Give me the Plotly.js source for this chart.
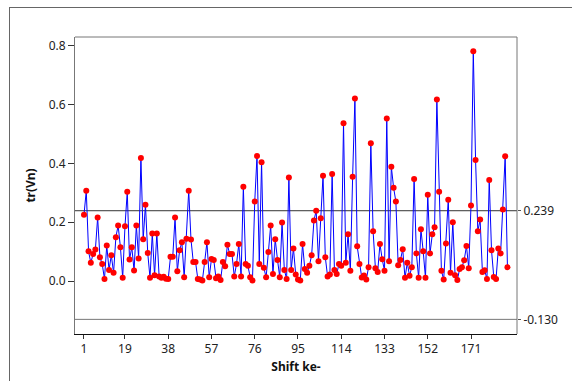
<!DOCTYPE html>
<html>
<head>
<meta charset="utf-8">
<script src="https://cdn.plot.ly/plotly-3.0.1.min.js"></script>
<style>
  html, body { margin: 0; padding: 0; background: #fff; }
  #wrap { position: relative; width: 572px; height: 381px; overflow: hidden; }
  #chart { width: 572px; height: 381px; }
  #frame { position: absolute; left: 9px; top: 7px; width: 600px; height: 400px;
           border-left: 1px solid #666; border-top: 1px solid #666; pointer-events: none; }
</style>
</head>
<body>
<div id="wrap">
  <div id="chart"></div>
  <div id="frame"></div>
</div>
<script>
// Values (tr(Vn) per shift)
const trValues = [
  0.225, 0.307, 0.101, 0.062, 0.092, 0.107, 0.216, 0.081, 0.058, 0.007,
  0.121, 0.038, 0.088, 0.028, 0.149, 0.189, 0.115, 0.011, 0.186, 0.303,
  0.073, 0.115, 0.036, 0.189, 0.077, 0.418, 0.142, 0.259, 0.095, 0.011,
  0.162, 0.020, 0.162, 0.016, 0.011, 0.015, 0.008, 0.007, 0.083, 0.083,
  0.216, 0.033, 0.105, 0.132, 0.013, 0.144, 0.307, 0.141, 0.065, 0.065,
  0.007, 0.005, 0.002, 0.065, 0.132, 0.013, 0.075, 0.072, 0.010, 0.016,
  0.004, 0.065, 0.050, 0.123, 0.092, 0.092, 0.016, 0.058, 0.126, 0.016,
  0.320, 0.058, 0.052, 0.013, 0.002, 0.270, 0.425, 0.058, 0.404, 0.045,
  0.013, 0.099, 0.189, 0.024, 0.142, 0.072, 0.013, 0.199, 0.038, 0.007,
  0.352, 0.038, 0.111, 0.022, 0.005, 0.002, 0.126, 0.041, 0.028, 0.052,
  0.088, 0.206, 0.239, 0.067, 0.213, 0.358, 0.081, 0.016, 0.022, 0.364,
  0.038, 0.024, 0.058, 0.052, 0.536, 0.062, 0.159, 0.035, 0.354, 0.620,
  0.118, 0.058, 0.012, 0.019, 0.005, 0.047, 0.468, 0.169, 0.044, 0.031,
  0.126, 0.074, 0.035, 0.552, 0.067, 0.388, 0.317, 0.270, 0.054, 0.072,
  0.108, 0.011, 0.062, 0.018, 0.047, 0.347, 0.094, 0.011, 0.176, 0.101,
  0.011, 0.293, 0.094, 0.159, 0.183, 0.617, 0.303, 0.035, 0.005, 0.128,
  0.276, 0.028, 0.200, 0.020, 0.004, 0.041, 0.047, 0.071, 0.119, 0.044,
  0.257, 0.781, 0.411, 0.169, 0.209, 0.031, 0.037, 0.007, 0.343, 0.105,
  0.014, 0.007, 0.111, 0.094, 0.243, 0.424, 0.047
];
const shiftIndex = trValues.map((v, i) => i + 1);
const xTickVals = [1, 19, 38, 57, 76, 95, 114, 133, 152, 171];
const yTickVals = [0.0, 0.2, 0.4, 0.6, 0.8];
const upperLimit = 0.239;
const lowerLimit = -0.130;
const limitVals = [upperLimit, lowerLimit];
const limitLabels = ['0.239', '-0.130'];

const FONT = 'Noto Sans, Open Sans, DejaVu Sans, sans-serif';
const yRange = [-0.1797, 0.829];

const trace = {
  x: shiftIndex,
  y: trValues,
  type: 'scatter',
  mode: 'lines+markers',
  line: { color: '#0000ff', width: 1 },
  marker: { color: '#ff0000', size: 6, line: { width: 0 } },
  hoverinfo: 'x+y',
  showlegend: false
};
// invisible trace to carry the right-side axis
const helper = {
  x: [shiftIndex[0]], y: [trValues[0]], yaxis: 'y2', mode: 'markers',
  marker: { opacity: 0 }, hoverinfo: 'skip', showlegend: false
};

const layout = {
  width: 572, height: 381,
  margin: { l: 75, r: 55, t: 37, b: 47, pad: 0 },
  paper_bgcolor: '#ffffff',
  plot_bgcolor: '#ffffff',
  font: { family: FONT, size: 12, color: '#222' },
  showlegend: false,
  xaxis: {
    range: [-2.95, 191.2],
    tickmode: 'array', tickvals: xTickVals, ticktext: xTickVals.map(String),
    ticks: 'outside', ticklen: 4, tickcolor: '#333', tickwidth: 1,
    showgrid: false, zeroline: false,
    showline: true, linecolor: '#111', linewidth: 1, mirror: false,
    tickfont: { family: FONT, size: 12, color: '#222' },
    title: { text: '<b>Shift ke-</b>', font: { family: FONT, size: 12, color: '#111' }, standoff: 6 }
  },
  yaxis: {
    range: yRange,
    tickmode: 'array', tickvals: yTickVals, ticktext: yTickVals.map(v => v.toFixed(1)),
    ticks: 'outside', ticklen: 6, tickcolor: '#333', tickwidth: 1,
    showgrid: false, zeroline: false,
    showline: true, linecolor: '#777', linewidth: 1,
    tickfont: { family: FONT, size: 12, color: '#222' },
    title: { text: '<b>tr(Vn)</b>', font: { family: FONT, size: 12, color: '#111' }, standoff: 10 }
  },
  yaxis2: {
    overlaying: 'y', side: 'right', range: yRange,
    tickmode: 'array', tickvals: limitVals, ticktext: limitLabels,
    ticks: 'outside', ticklen: 3, tickcolor: '#555',
    showgrid: false, zeroline: false, showline: false,
    tickfont: { family: FONT, size: 12, color: '#222' }
  },
  shapes: [
    // top and right plot borders
    { type: 'line', xref: 'paper', yref: 'paper', x0: 0, x1: 1, y0: 1, y1: 1, line: { color: '#777', width: 1 } },
    { type: 'line', xref: 'paper', yref: 'paper', x0: 1, x1: 1, y0: 0, y1: 1, line: { color: '#777', width: 1 } },
    // control limits
    { type: 'line', xref: 'paper', yref: 'y', x0: 0, x1: 1, y0: upperLimit, y1: upperLimit, line: { color: '#333', width: 1 }, layer: 'below' },
    { type: 'line', xref: 'paper', yref: 'y', x0: 0, x1: 1, y0: lowerLimit, y1: lowerLimit, line: { color: '#777', width: 1 }, layer: 'below' }
  ]
};

Plotly.newPlot('chart', [trace, helper], layout, { displayModeBar: false, staticPlot: true });
</script>
</body>
</html>
